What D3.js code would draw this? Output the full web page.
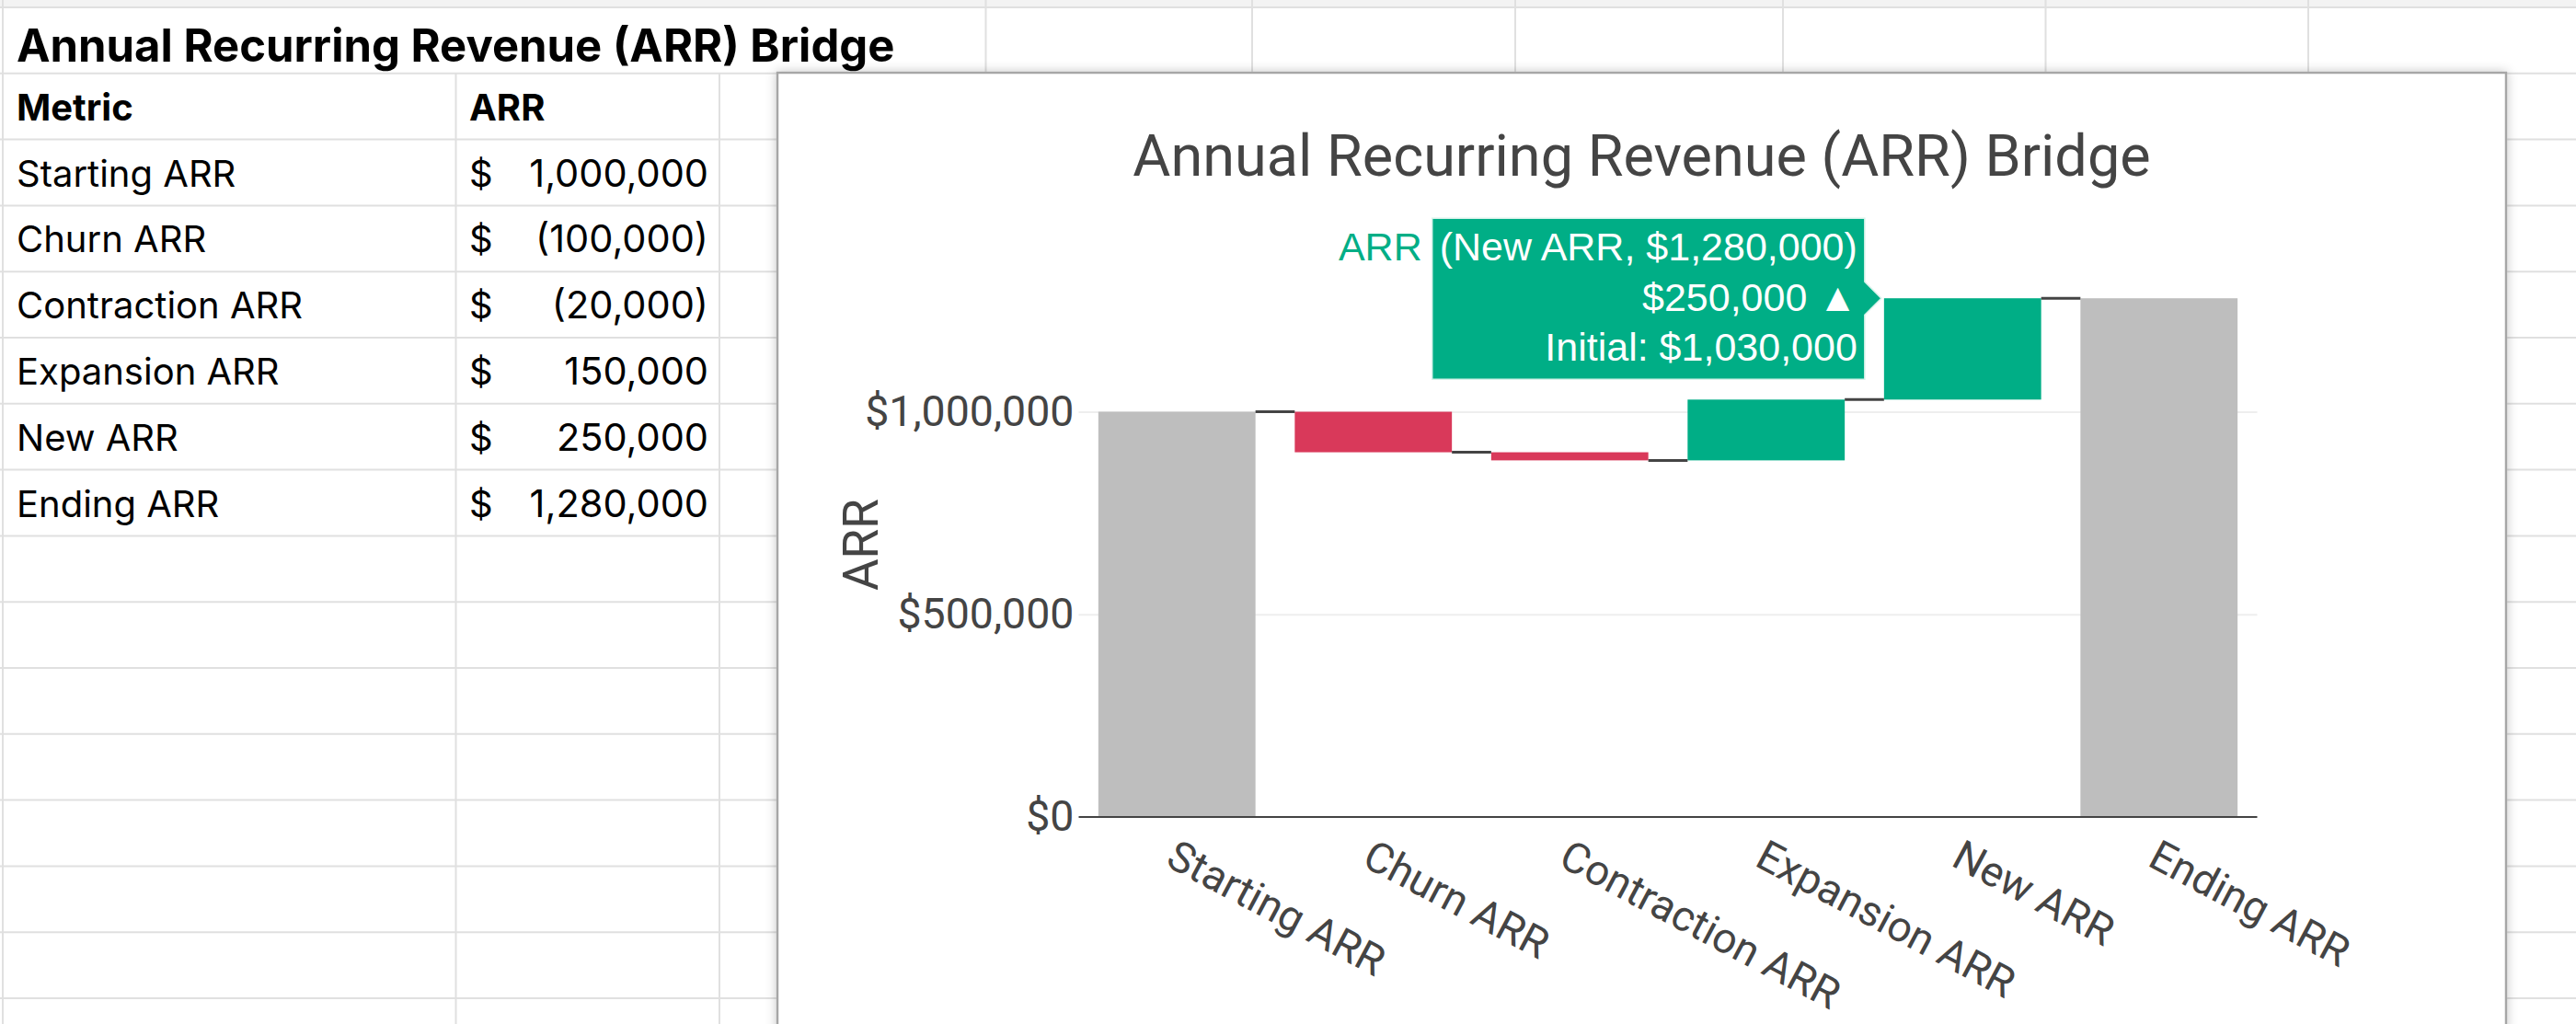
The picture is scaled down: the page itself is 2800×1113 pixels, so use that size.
<!DOCTYPE html>
<html>
<head>
<meta charset="utf-8">
<script src="https://cdn.jsdelivr.net/npm/d3@7"></script>
<style>
  body { margin: 0; background: #fff; }
  svg { display: block; }
</style>
</head>
<body>
<svg id="sheet" width="2800" height="1113"></svg>
<script>
// data
const metrics = ["Starting ARR", "Churn ARR", "Contraction ARR", "Expansion ARR", "New ARR", "Ending ARR"];
const arrValues = [1000000, -100000, -20000, 150000, 250000, 1280000];
const measures = ["absolute", "relative", "relative", "relative", "relative", "total"];
const yTicks = [0, 500000, 1000000];
const sheetTitle = "Annual Recurring Revenue (ARR) Bridge";
const tableHeader = ["Metric", "ARR"];
const chartTitle = "Annual Recurring Revenue (ARR) Bridge";
const yLabel = "ARR";
const hovered = "New ARR";

const W = 2800, H = 1113;
const svg = d3.select("#sheet");
const fmt = d3.format(",");
const money = d => "$" + fmt(d);

// ---- spreadsheet background ----
const rowTop = 8, rowH = 71.8;
const colX = [3, 495.5, 782, 1071.5, 1361, 1647, 1938, 2223.5, 2509];

svg.append("rect").attr("width", W).attr("height", H).attr("fill", "#fff");
svg.append("rect").attr("width", W).attr("height", rowTop).attr("fill", "#f3f3f3");

const grid = svg.append("g").attr("stroke", "#e0e0e0").attr("stroke-width", 2);
d3.range(16).forEach(k => {
  grid.append("line").attr("x1", 0).attr("x2", W)
    .attr("y1", rowTop + k * rowH).attr("y2", rowTop + k * rowH);
});
colX.forEach((cx, i) => {
  // title text in row 1 overflows over the first two column borders
  const y0 = (i === 1 || i === 2) ? rowTop + rowH : 0;
  grid.append("line").attr("x1", cx).attr("x2", cx).attr("y1", y0).attr("y2", H);
});

const cells = svg.append("g").style("font-family", "Inter, 'Noto Sans', sans-serif").attr("fill", "#000");
cells.append("text").attr("x", 18).attr("y", rowTop + 59)
  .style("font-size", "49px").style("font-weight", 700).text(sheetTitle);
cells.append("text").attr("x", 18).attr("y", rowTop + rowH + 51)
  .style("font-size", "40px").style("font-weight", 700).text(tableHeader[0]);
cells.append("text").attr("x", 510).attr("y", rowTop + rowH + 51)
  .style("font-size", "40px").style("font-weight", 700).text(tableHeader[1]);

const acct = v => v < 0 ? "(" + fmt(-v) + ")" : fmt(v);
metrics.forEach((m, i) => {
  const by = rowTop + (i + 2) * rowH + 51;
  cells.append("text").attr("x", 18).attr("y", by).style("font-size", "40px").text(m);
  cells.append("text").attr("x", 510).attr("y", by).style("font-size", "40px").text("$");
  cells.append("text").attr("x", 770).attr("y", by).attr("text-anchor", "end")
    .style("font-size", "41.5px").text(acct(arrValues[i]));
});

// ---- chart frame ----
const defs = svg.append("defs");
const sh = defs.append("filter").attr("id", "shadow")
  .attr("x", "-5%").attr("y", "-5%").attr("width", "110%").attr("height", "110%");
sh.append("feDropShadow").attr("dx", 0).attr("dy", 0).attr("stdDeviation", 6)
  .attr("flood-color", "#000").attr("flood-opacity", 0.22);

const frame = { x: 845, y: 79, w: 1879, h: 1200 };
svg.append("rect").attr("x", frame.x).attr("y", frame.y)
  .attr("width", frame.w).attr("height", frame.h)
  .attr("fill", "#fff").attr("stroke", "#a6a6a6").attr("stroke-width", 2.5)
  .attr("filter", "url(#shadow)");

// ---- waterfall ----
const plot = { left: 1172.5, right: 2453.5, top: 296, bottom: 888 };
let running = 0;
const steps = metrics.map((m, i) => {
  const v = arrValues[i];
  let base, end;
  if (measures[i] === "absolute") { base = 0; end = v; }
  else if (measures[i] === "total") { base = 0; end = running; }
  else { base = running; end = running + v; }
  running = end;
  return { metric: m, value: v, base, end, measure: measures[i] };
});

const x = d3.scaleBand().domain(metrics).range([plot.left, plot.right])
  .paddingInner(0.2).paddingOuter(0.1);
const y = d3.scaleLinear().domain([0, 1344000]).range([plot.bottom, plot.top]);

const chart = svg.append("g").style("font-family", "Roboto, sans-serif");

// gridlines
chart.append("g")
  .attr("transform", "translate(" + plot.left + ",0)")
  .call(d3.axisLeft(y).tickValues(yTicks.filter(t => t > 0))
    .tickSize(-(plot.right - plot.left)).tickFormat(""))
  .call(g => g.select(".domain").remove())
  .call(g => g.selectAll("line").attr("stroke", "#eee").attr("stroke-width", 2));

// y axis labels
chart.append("g")
  .attr("transform", "translate(" + plot.left + ",0)")
  .call(d3.axisLeft(y).tickValues(yTicks).tickSize(0).tickPadding(5).tickFormat(money))
  .call(g => g.select(".domain").remove())
  .call(g => g.selectAll("text").attr("fill", "#444").style("font-size", "46.5px")
    .style("font-family", "Roboto, sans-serif"));

// bars
const colorOf = d => d.measure !== "relative" ? "#bebebe" : (d.value < 0 ? "#d9395a" : "#00ae86");
chart.append("g").selectAll("rect").data(steps).enter().append("rect")
  .attr("x", d => x(d.metric))
  .attr("width", x.bandwidth())
  .attr("y", d => y(Math.max(d.base, d.end)))
  .attr("height", d => Math.abs(y(d.base) - y(d.end)))
  .attr("fill", colorOf);

// connectors
chart.append("g").selectAll("line").data(steps.slice(0, -1)).enter().append("line")
  .attr("x1", d => x(d.metric) + x.bandwidth())
  .attr("x2", (d, i) => x(metrics[i + 1]))
  .attr("y1", d => y(d.end)).attr("y2", d => y(d.end))
  .attr("stroke", "#444").attr("stroke-width", 3);

// zero line
chart.append("line").attr("x1", plot.left).attr("x2", plot.right)
  .attr("y1", y(0)).attr("y2", y(0)).attr("stroke", "#444").attr("stroke-width", 2);

// x axis labels
chart.append("g")
  .attr("transform", "translate(0," + plot.bottom + ")")
  .call(d3.axisBottom(x).tickSize(0))
  .call(g => g.select(".domain").remove())
  .call(g => g.selectAll("text")
    .attr("y", 0).attr("dy", 0)
    .attr("text-anchor", "start")
    .attr("transform", "translate(-14,52) rotate(28)")
    .attr("fill", "#444").style("font-size", "46px")
    .style("font-family", "Roboto, sans-serif"));

// titles
chart.append("text").attr("x", frame.x + frame.w / 2).attr("y", 191)
  .attr("text-anchor", "middle").attr("fill", "#444").style("font-size", "63px")
  .text(chartTitle);
chart.append("text")
  .attr("transform", "translate(954," + (plot.top + plot.bottom) / 2 + ") rotate(-90)")
  .attr("text-anchor", "middle").attr("fill", "#444").style("font-size", "53px")
  .text(yLabel);

// ---- hover label ----
const hi = steps.find(d => d.metric === hovered);
const tipX = x(hi.metric) - 3, tipY = y(hi.end);
const tip = svg.append("g").style("font-family", "'Liberation Sans', Arial, sans-serif")
  .style("font-size", "43px");
const tipLines = [
  "(" + hi.metric + ", " + money(hi.end) + ")",
  money(hi.value) + " \u25B2",
  "Initial: " + money(hi.base)
];
const boxRight = tipX - 18;
const boxTop = tipY - 87, boxBottom = tipY + 88;
const box = tip.append("path").attr("fill", "#00ae86").attr("stroke", "#d8f2ea").attr("stroke-width", 1.5);
const txt = tip.selectAll("text.line").data(tipLines).enter().append("text")
  .attr("class", "line")
  .attr("x", boxRight - 8)
  .attr("y", (d, i) => tipY - 41 + i * 54.5)
  .attr("text-anchor", "end").attr("fill", "#fff")
  .text(d => d);
let maxW = 0;
txt.each(function () { maxW = Math.max(maxW, this.getComputedTextLength()); });
const boxLeft = boxRight - maxW - 16;
box.attr("d", "M" + boxLeft + "," + boxTop + "H" + boxRight + "V" + (tipY - 18) +
  "L" + tipX + "," + tipY + "L" + boxRight + "," + (tipY + 18) + "V" + boxBottom +
  "H" + boxLeft + "Z");
tip.append("text").attr("x", boxLeft - 11).attr("y", tipY - 41)
  .attr("text-anchor", "end").attr("fill", "#00ae86").text("ARR");
</script>
</body>
</html>
